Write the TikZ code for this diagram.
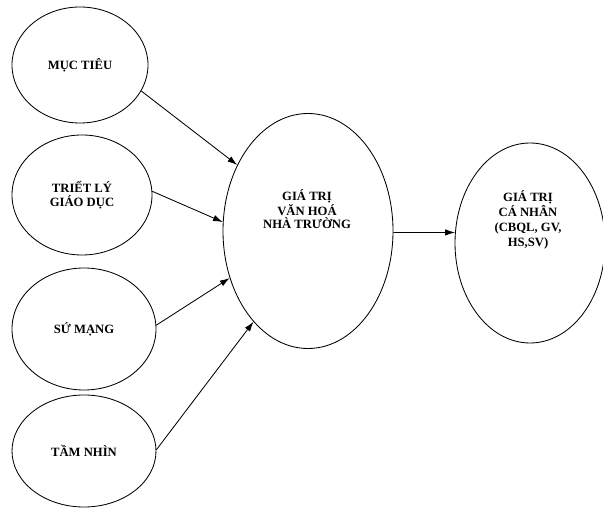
\documentclass[tikz,border=0pt]{standalone}
\usepackage{fontspec}
\setmainfont{Liberation Serif}
\usetikzlibrary{shapes.geometric, arrows.meta}

\begin{document}
\begin{tikzpicture}[
		bubble/.style={draw, ellipse, line width=0.6pt, inner sep=0pt, align=center, font=\fontsize{9}{10}\selectfont\bfseries},
		bubbletext/.style={align=center, inner sep=0pt, font=\fontsize{9}{10.5}\selectfont\bfseries},
		link/.style={-{Latex[length=7pt, width=4.5pt]}, line width=0.6pt}
	]
	\useasboundingbox (0,0) rectangle (15.075,12.675);

	\node[bubble, minimum width=3.4cm, minimum height=2.9cm] (muctieu) at (2,11.05) {MỤC TIÊU};
	\node[bubble, minimum width=3.5cm, minimum height=3cm] (trietly) at (2.05,7.8) {TRIẾT LÝ\\GIÁO DỤC};
	\node[bubble, minimum width=3.6cm, minimum height=3.05cm] (sumang) at (2.1,4.45) {SỨ MẠNG};
	\node[bubble, minimum width=3.6cm, minimum height=2.8cm] (tamnhin) at (2.1,1.4) {TẦM NHÌN};

	\node[bubble, minimum width=4.25cm, minimum height=5.875cm] (vanhoa) at (7.7,6.9) {};
	\node[bubbletext, font=\fontsize{9}{9.2}\selectfont\bfseries] (vanhoatext) at (7.675,7.45) {GIÁ TRỊ\\VĂN HOÁ\\NHÀ  TRƯỜNG};

	\node[bubble, minimum width=3.75cm, minimum height=5cm] (canhan) at (13.25,6.6) {};
	\node[bubbletext] (canhantext) at (13.2,7.175) {GIÁ TRỊ\\CÁ NHÂN\\(CBQL, GV,\\HS,SV)};

	\draw[link] (muctieu.-23) -- (vanhoa.137);
	\draw[link] (trietly.3) -- (vanhoa.174);
	\draw[link] (sumang.3) -- (vanhoa.211);
	\draw[link] (tamnhin.1) -- (vanhoa.239);

	\draw[link] (vanhoa.-1) -- (canhan.172);
\end{tikzpicture}
\end{document}
